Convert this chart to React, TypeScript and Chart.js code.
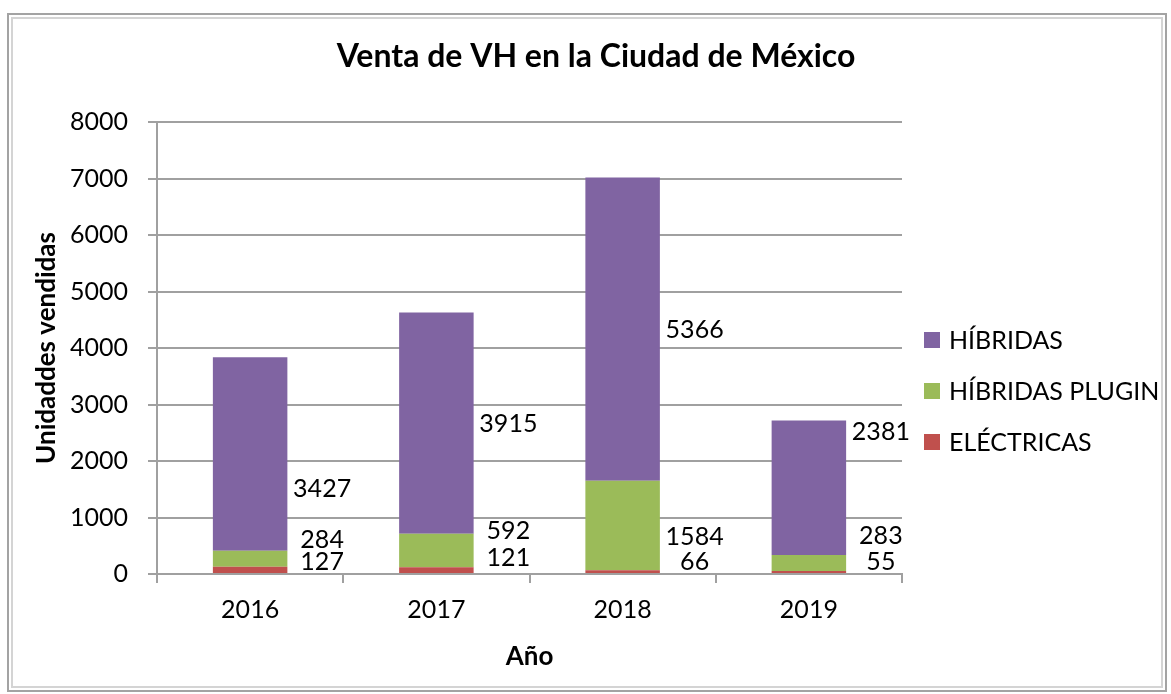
import React, { useEffect, useRef } from "react";
import { Chart, registerables } from "chart.js";

Chart.register(...registerables);

const categories = ["2016", "2017", "2018", "2019"];
const electricas = [127, 121, 66, 55];
const hibridasPlugin = [284, 592, 1584, 283];
const hibridas = [3427, 3915, 5366, 2381];
const seriesNames = ["ELÉCTRICAS", "HÍBRIDAS PLUGIN", "HÍBRIDAS"];
const seriesColors = ["#C0504D", "#9BBB59", "#8064A2"];
const yTickValues = [0, 1000, 2000, 3000, 4000, 5000, 6000, 7000, 8000];
const chartTitle = "Venta de VH en la Ciudad de México";
const xTitle = "Año";
const yTitle = "Unidaddes vendidas";
// heights (in data units) at which the reference places each value label
const labelAtElectricas = [212, 290, 212, 212];
const labelAtPlugin = [602, 761, 655, 673];
const labelAtHibridas = [1504, 2655, 4318, 2513];

const FONT = "Lato, 'Open Sans', sans-serif";

const titlePlugin = {
  id: "centeredTitle",
  afterDraw(chart: any) {
    const ctx = chart.ctx;
    ctx.save();
    ctx.font = `bold 32px ${FONT}`;
    ctx.fillStyle = "#000";
    ctx.textAlign = "center";
    ctx.textBaseline = "middle";
    ctx.fillText(chartTitle, 596, 57);
    ctx.restore();
  },
};

const valueLabelPlugin = {
  id: "valueLabels",
  afterDatasetsDraw(chart: any) {
    const ctx = chart.ctx;
    const anchors = [labelAtElectricas, labelAtPlugin, labelAtHibridas];
    const yScale = chart.scales.y;
    ctx.save();
    ctx.font = `25px ${FONT}`;
    ctx.fillStyle = "#000";
    ctx.textAlign = "center";
    ctx.textBaseline = "middle";
    chart.data.datasets.forEach((ds: any, d: number) => {
      const meta = chart.getDatasetMeta(d);
      meta.data.forEach((el: any, j: number) => {
        const y = yScale.getPixelForValue(anchors[d][j]);
        ctx.fillText(String(ds.data[j]), el.x + 72, y);
      });
    });
    ctx.restore();
  },
};

const sideLegendPlugin = {
  id: "sideLegend",
  afterDraw(chart: any) {
    const ctx = chart.ctx;
    const area = chart.chartArea;
    const x0 = area.right + 22;
    const yStart = 340;
    const step = 51;
    ctx.save();
    ctx.font = `25px ${FONT}`;
    ctx.textAlign = "left";
    ctx.textBaseline = "middle";
    const ds = [...chart.data.datasets].reverse();
    ds.forEach((d: any, i: number) => {
      const y = yStart + i * step;
      ctx.fillStyle = d.backgroundColor;
      ctx.fillRect(x0, y - 8, 16, 16);
      ctx.fillStyle = "#000";
      ctx.fillText(d.label, x0 + 25, y + 1);
    });
    ctx.restore();
  },
};

function VentaChart() {
  const ref = useRef<HTMLCanvasElement | null>(null);
  useEffect(() => {
    if (!ref.current) return;
    const gridColor = "#a0a0a0";
    const chart = new Chart(ref.current, {
      type: "bar",
      data: {
        labels: categories,
        datasets: [
          { label: seriesNames[0], data: electricas, backgroundColor: seriesColors[0] },
          { label: seriesNames[1], data: hibridasPlugin, backgroundColor: seriesColors[1] },
          { label: seriesNames[2], data: hibridas, backgroundColor: seriesColors[2] },
        ],
      },
      options: {
        responsive: false,
        animation: false,
        devicePixelRatio: 1,
        layout: { padding: { top: 122, left: 18, right: 269, bottom: 20 } },
        datasets: { bar: { barPercentage: 0.4, categoryPercentage: 1 } },
        plugins: {
          legend: { display: false },
          tooltip: { enabled: false },
          title: { display: false },
        },
        scales: {
          x: {
            stacked: true,
            afterFit: (s: any) => { s.height = 100; },
            grid: { display: true, drawOnChartArea: false, drawTicks: true, tickLength: 9, color: gridColor, lineWidth: 2, offset: true },
            border: { display: true, color: gridColor, width: 2 },
            ticks: { color: "#000", font: { family: FONT, size: 25 }, padding: 12 },
            title: {
              display: true,
              text: xTitle,
              color: "#000",
              font: { family: FONT, size: 26, weight: "bold", lineHeight: 1.2 },
              padding: { top: 0, bottom: 1.4 },
            },
          },
          y: {
            stacked: true,
            min: 0,
            max: 8000,
            afterFit: (s: any) => { s.width = 139; },
            afterBuildTicks: (s: any) => { s.ticks = yTickValues.map((v) => ({ value: v })); },
            grid: { color: gridColor, lineWidth: 2, tickLength: 9, drawTicks: true },
            border: { display: true, color: gridColor, width: 2 },
            ticks: {
              color: "#000",
              font: { family: FONT, size: 25 },
              padding: 20,
              callback: (v: any) => String(v),
            },
            title: {
              display: true,
              text: yTitle,
              color: "#000",
              font: { family: FONT, size: 26, weight: "bold", lineHeight: 1.2 },
              padding: { top: 13, bottom: 0 },
            },
          },
        },
      },
      plugins: [valueLabelPlugin, sideLegendPlugin, titlePlugin],
    } as any);
    return () => chart.destroy();
  }, []);
  return (
    <canvas
      ref={ref}
      width={1171}
      height={694}
      style={{ position: "absolute", left: 0, top: 0, width: 1171, height: 694, display: "block" }}
    />
  );
}

export default function App() {
  return (
    <div style={{ position: "absolute", left: 0, top: 0, width: 1171, height: 694, background: "#fff", overflow: "hidden" }}>
      <div
        style={{
          position: "absolute",
          left: 7,
          top: 13,
          width: 1160,
          height: 679,
          boxSizing: "border-box",
          border: "2px solid #a3a3a3",
        }}
      >
        <div
          style={{
            position: "absolute",
            left: 2,
            top: 2,
            right: 2,
            bottom: 2,
            border: "2px solid #d4d4d4",
          }}
        />
      </div>
      <VentaChart />
    </div>
  );
}
